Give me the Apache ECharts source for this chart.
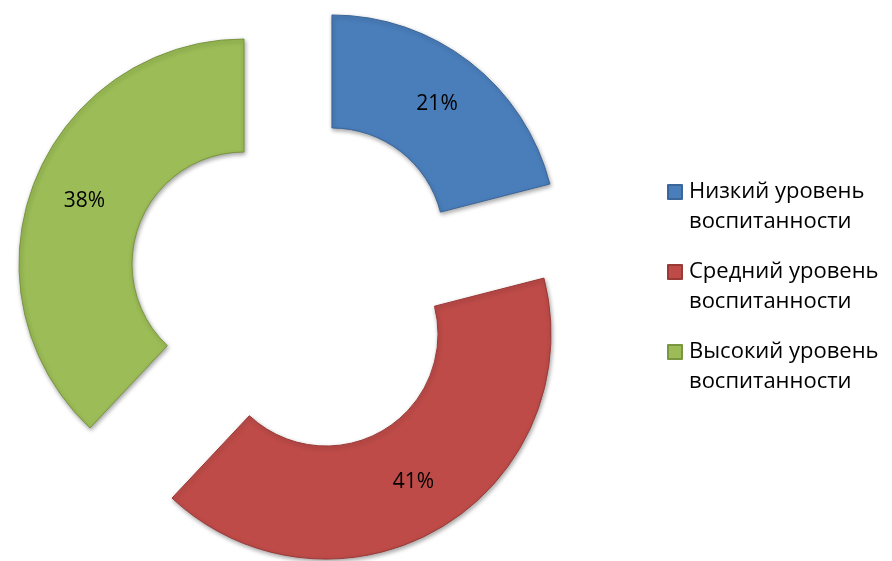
<!DOCTYPE html>
<html>
<head>
<meta charset="utf-8">
<script src="https://cdn.jsdelivr.net/npm/echarts@6/dist/echarts.min.js"></script>
<style>
html,body{margin:0;padding:0;background:#fff;}
#chart{width:892px;height:561px;}
</style>
</head>
<body>
<div id="chart"></div>
<script>
const categories = ['Низкий уровень воспитанности', 'Средний уровень воспитанности', 'Высокий уровень воспитанности'];
const values = [21, 41, 38];
const colors = ['#4a7ebb', '#be4b48', '#9bbc56'];
const borders = ['#3b6699', '#9a3a37', '#7a9641'];

const FONT = 'Open Sans';
const chart = echarts.init(document.getElementById('chart'), null, {renderer: 'canvas'});
chart.setOption({
  animation: false,
  backgroundColor: '#ffffff',
  legend: {
    orient: 'vertical',
    left: 667,
    top: 147,
    padding: 0,
    itemWidth: 14,
    itemHeight: 14,
    itemGap: -10,
    icon: 'rect',
    selectedMode: false,
    data: categories,
    formatter: function (n) { return '\n' + n.replace(' воспитанности', '\nвоспитанности'); },
    textStyle: {fontFamily: FONT, fontSize: 22, lineHeight: 30, color: '#000', padding: [0, 0, 0, 2]}
  },
  series: [{
    type: 'pie',
    center: [297, 285],
    radius: [112, 225],
    startAngle: 90,
    clockwise: true,
    selectedMode: 'multiple',
    selectedOffset: 57,
    avoidLabelOverlap: false,
    emphasis: {disabled: true},
    label: {show: true, position: 'inside', formatter: '{c}%', fontFamily: FONT, fontSize: 21, color: '#000'},
    labelLine: {show: false},
    data: categories.map(function (c, i) {
      return {
        name: c, value: values[i], selected: true,
        itemStyle: {color: colors[i], borderColor: borders[i], borderWidth: 1,
          shadowBlur: 4, shadowOffsetX: 1, shadowOffsetY: 2, shadowColor: 'rgba(0,0,0,0.35)'},
        select: {itemStyle: {color: colors[i], borderColor: borders[i], borderWidth: 1}}
      };
    })
  }]
});
</script>
</body>
</html>
